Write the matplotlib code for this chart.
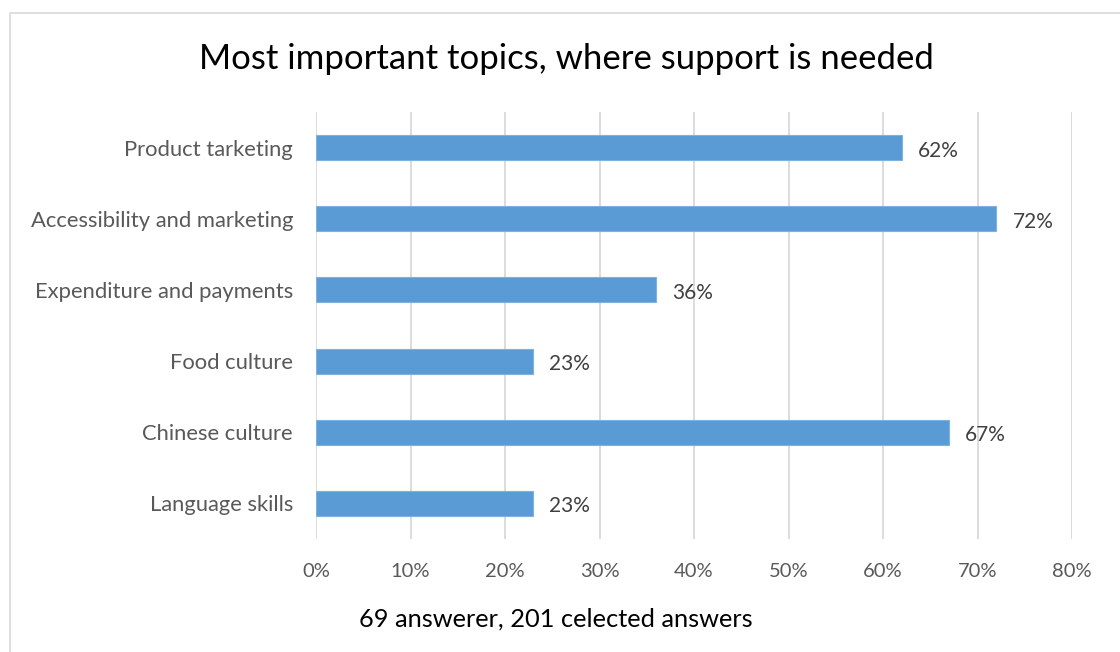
import matplotlib.pyplot as plt
from matplotlib.patches import Rectangle

topics = ['Language skills', 'Chinese culture', 'Food culture',
          'Expenditure and payments', 'Accessibility and marketing',
          'Product tarketing']
shares = [23, 67, 23, 36, 72, 62]
x_ticks = [0, 10, 20, 30, 40, 50, 60, 70, 80]

W, H = 1120, 652
plt.rcParams['font.family'] = ['Lato', 'DejaVu Sans']

fig = plt.figure(figsize=(W / 100, H / 100), dpi=100)
ax = fig.add_axes([316 / W, 1 - 539 / H, (1072 - 316) / W, (539 - 112) / H])

ax.barh(range(len(topics)), shares, height=0.35, color='#5B9BD5',
        edgecolor='#7FB1E0', linewidth=0.8, zorder=3)
for i, v in enumerate(shares):
    ax.annotate(f'{v}%', (v, i), xytext=(16, -3), textcoords='offset pixels',
                va='center', ha='left', fontsize=15, color='#404040')

ax.set_xlim(0, 80)
ax.set_ylim(-0.5, len(topics) - 0.5)
ax.set_xticks(x_ticks)
ax.set_xticklabels([f'{t}%' for t in x_ticks])
ax.set_yticks(range(len(topics)))
ax.set_yticklabels(topics)
ax.tick_params(length=0, labelcolor='#595959')
ax.tick_params(axis='x', pad=17, labelsize=14.5)
ax.tick_params(axis='y', pad=16.5, labelsize=15.8)
ax.grid(axis='x', color='#D9D9D9', linewidth=1.3, zorder=0)
for s in ax.spines.values():
    s.set_visible(False)

fig.text(566 / W, 1 - 59 / H, 'Most important topics, where support is needed',
         ha='center', va='center', fontsize=25, color='black')
fig.text(556 / W, 1 - 619 / H, '69 answerer, 201 celected answers',
         ha='center', va='center', fontsize=18.3, color='black')

fig.patches.append(Rectangle((10 / W, -0.1), 1.2, 1 - 13 / H + 0.1,
                             transform=fig.transFigure, fill=False,
                             edgecolor='#D9D9D9', linewidth=1.2))

fig.savefig('out.png', dpi=100)
